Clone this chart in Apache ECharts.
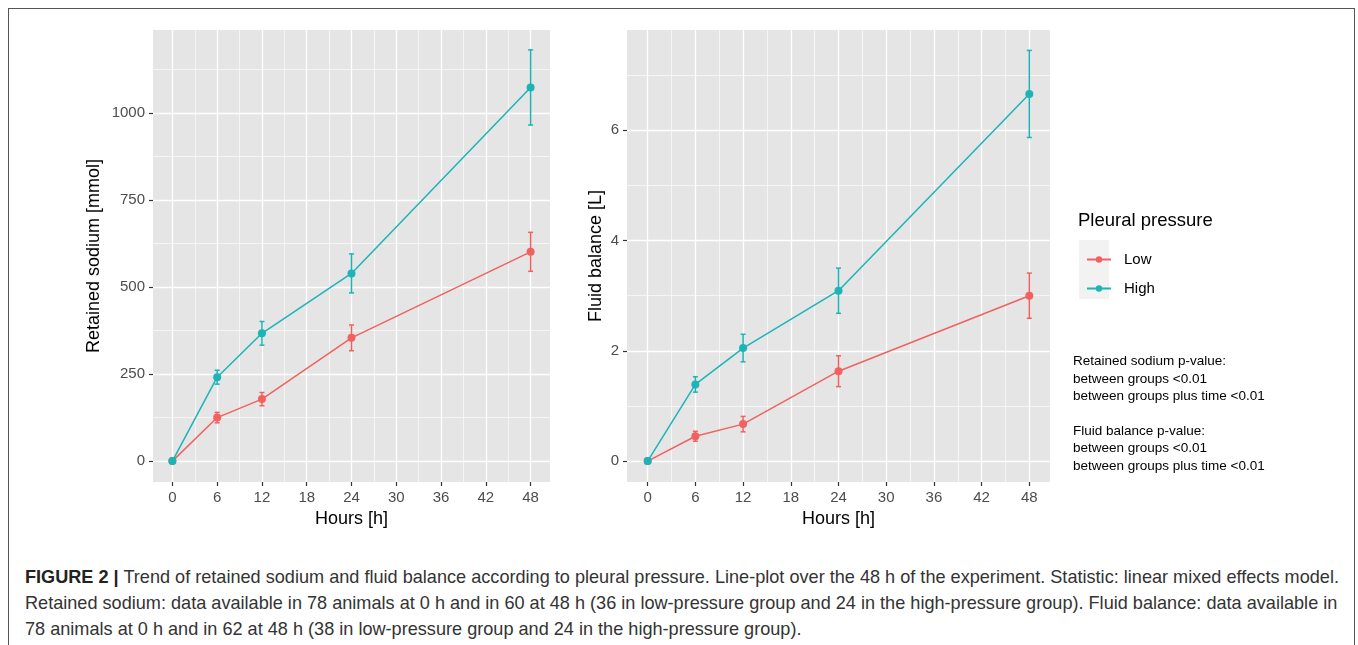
<!DOCTYPE html>
<html>
<head>
<meta charset="utf-8">
<script src="https://cdn.jsdelivr.net/npm/echarts@6/dist/echarts.min.js"></script>
<style>
  body { margin: 0; background: #fff; }
  #frame { position: absolute; left: 8px; top: 8px; width: 1345px; height: 680px; border: 1.5px solid #555; }
  #main { position: absolute; left: 0; top: 0; width: 1358px; height: 545px; }
  #caption { position: absolute; left: 25px; top: 564px; font-family: "Liberation Sans", Arial, sans-serif;
             font-size: 19px; line-height: 26px; color: #333; white-space: nowrap; transform-origin: 0 0; }
  #caption b { color: #222; }
</style>
</head>
<body>
<div id="frame"></div>
<div id="main"></div>
<div id="caption"><b>FIGURE 2 |</b> Trend of retained sodium and fluid balance according to pleural pressure. Line-plot over the 48 h of the experiment. Statistic: linear mixed effects model.<br>Retained sodium: data available in 78 animals at 0 h and in 60 at 48 h (36 in low-pressure group and 24 in the high-pressure group). Fluid balance: data available in<br>78 animals at 0 h and in 62 at 48 h (38 in low-pressure group and 24 in the high-pressure group).</div>

<script type="text/javascript">
    // 数据
    var hours = [0, 6, 12, 24, 48];
    var sodiumLow = [0, 125, 178, 354, 601];
    var sodiumLowErr = [0, 15, 19, 37, 56];
    var sodiumHigh = [0, 241, 367, 539, 1073];
    var sodiumHighErr = [0, 20, 34, 56, 108];
    var fluidLow = [0, 0.45, 0.67, 1.63, 3.0];
    var fluidLowErr = [0, 0.09, 0.14, 0.28, 0.41];
    var fluidHigh = [0, 1.39, 2.05, 3.09, 6.66];
    var fluidHighErr = [0, 0.14, 0.25, 0.41, 0.79];

    var hourTicks = [0, 6, 12, 18, 24, 30, 36, 42, 48];
    var hourMinor = [3, 9, 15, 21, 27, 33, 39, 45];
    var sodiumTicks = [0, 250, 500, 750, 1000];
    var sodiumMinor = [125, 375, 625, 875, 1125];
    var fluidTicks = [0, 2, 4, 6];
    var fluidMinor = [1, 3, 5, 7];

    var RED = '#F2615F', CYAN = '#1CB4B6';
    var FONT = '"Liberation Sans", Arial, sans-serif';

    // caption: squeeze to the narrow width of the original
    var cap = document.getElementById('caption');
    cap.style.transform = 'scaleX(' + (1314 / cap.scrollWidth) + ')';

    var myChart = echarts.init(document.getElementById('main'));

    function majorAxis(gridIndex, min, max, ticks, name, nameGap) {
        return {
            type: 'value', gridIndex: gridIndex, min: min, max: max,
            name: name, nameLocation: 'middle', nameGap: nameGap,
            nameTextStyle: { fontSize: 18, color: '#000', fontFamily: FONT },
            axisLine: { show: false, onZero: false },
            axisTick: { show: true, length: 4, customValues: ticks, lineStyle: { color: '#333', width: 1.2 } },
            axisLabel: { customValues: ticks, color: '#4D4D4D', fontSize: 15, margin: 8, fontFamily: FONT,
                         formatter: function (v) { return String(v); } },
            splitLine: { show: true, lineStyle: { color: '#fff', width: 1.3 } }
        };
    }
    function minorAxis(gridIndex, min, max, ticks) {
        return {
            type: 'value', gridIndex: gridIndex, min: min, max: max,
            axisLine: { show: false, onZero: false },
            axisTick: { show: false, customValues: ticks },
            axisLabel: { show: false },
            splitLine: { show: true, lineStyle: { color: '#fff', width: 0.6 } }
        };
    }

    function lineSeries(name, xi, yi, vals, color, z) {
        return {
            type: 'line', name: name, xAxisIndex: xi, yAxisIndex: yi,
            data: hours.map(function (h, i) { return [h, vals[i]]; }),
            symbol: 'circle', symbolSize: 8, color: color, z: z,
            lineStyle: { width: 1.5, color: color },
            itemStyle: { color: color },
            animation: false
        };
    }
    function errorSeries(xi, yi, vals, errs, color, z) {
        return {
            type: 'custom', name: 'err', xAxisIndex: xi, yAxisIndex: yi, z: z,
            data: hours.map(function (h, i) { return [h, vals[i] - errs[i], vals[i] + errs[i]]; }),
            encode: { x: 0, y: [1, 2] },
            renderItem: function (params, api) {
                var lo = api.coord([api.value(0), api.value(1)]);
                var hi = api.coord([api.value(0), api.value(2)]);
                var w = 2.5;
                var st = { stroke: color, lineWidth: 1.5 };
                return {
                    type: 'group', children: [
                        { type: 'line', shape: { x1: lo[0], y1: lo[1], x2: hi[0], y2: hi[1] }, style: st },
                        { type: 'line', shape: { x1: lo[0] - w, y1: lo[1], x2: lo[0] + w, y2: lo[1] }, style: st },
                        { type: 'line', shape: { x1: hi[0] - w, y1: hi[1], x2: hi[0] + w, y2: hi[1] }, style: st }
                    ]
                };
            },
            animation: false
        };
    }

    var option = {
        animation: false,
        textStyle: { fontFamily: FONT },
        grid: [
            { left: 153, top: 30, width: 397, height: 452, show: true, backgroundColor: '#E5E5E5', borderWidth: 0 },
            { left: 627, top: 30, width: 423, height: 452, show: true, backgroundColor: '#E5E5E5', borderWidth: 0 }
        ],
        xAxis: [
            majorAxis(0, -2.6, 50.6, hourTicks, 'Hours [h]', 28),
            minorAxis(0, -2.6, 50.6, hourMinor),
            majorAxis(1, -2.6, 50.6, hourTicks, 'Hours [h]', 28),
            minorAxis(1, -2.6, 50.6, hourMinor)
        ],
        yAxis: [
            majorAxis(0, -60, 1238, sodiumTicks, 'Retained sodium [mmol]', 50),
            minorAxis(0, -60, 1238, sodiumMinor),
            majorAxis(1, -0.38, 7.82, fluidTicks, 'Fluid balance [L]', 22),
            minorAxis(1, -0.38, 7.82, fluidMinor)
        ],
        legend: {
            data: ['Low', 'High'], orient: 'vertical', left: 1081, top: 247,
            itemWidth: 24, itemHeight: 8, itemGap: 14, selectedMode: false,
            textStyle: { fontSize: 15, color: '#000', padding: [0, 0, 0, 8], fontFamily: FONT }
        },
        graphic: [
            { type: 'rect', left: 1079, top: 240, shape: { width: 30, height: 59 }, style: { fill: '#F2F2F2' }, z: -1 },
            { type: 'text', left: 1078, top: 211, style: { text: 'Pleural pressure', fill: '#000', font: '18.5px ' + FONT } },
            { type: 'text', left: 1073, top: 353, style: {
                text: 'Retained sodium p-value:\nbetween groups <0.01\nbetween groups plus time <0.01\n\nFluid balance p-value:\nbetween groups <0.01\nbetween groups plus time <0.01',
                font: '13.5px ' + FONT, lineHeight: 17.4, fill: '#000' } }
        ],
        series: [
            errorSeries(0, 0, sodiumLow, sodiumLowErr, RED, 2),
            lineSeries('Low', 0, 0, sodiumLow, RED, 3),
            errorSeries(0, 0, sodiumHigh, sodiumHighErr, CYAN, 4),
            lineSeries('High', 0, 0, sodiumHigh, CYAN, 5),
            errorSeries(2, 2, fluidLow, fluidLowErr, RED, 2),
            lineSeries('Low', 2, 2, fluidLow, RED, 3),
            errorSeries(2, 2, fluidHigh, fluidHighErr, CYAN, 4),
            lineSeries('High', 2, 2, fluidHigh, CYAN, 5)
        ]
    };

    myChart.setOption(option);
</script>
</body>
</html>
